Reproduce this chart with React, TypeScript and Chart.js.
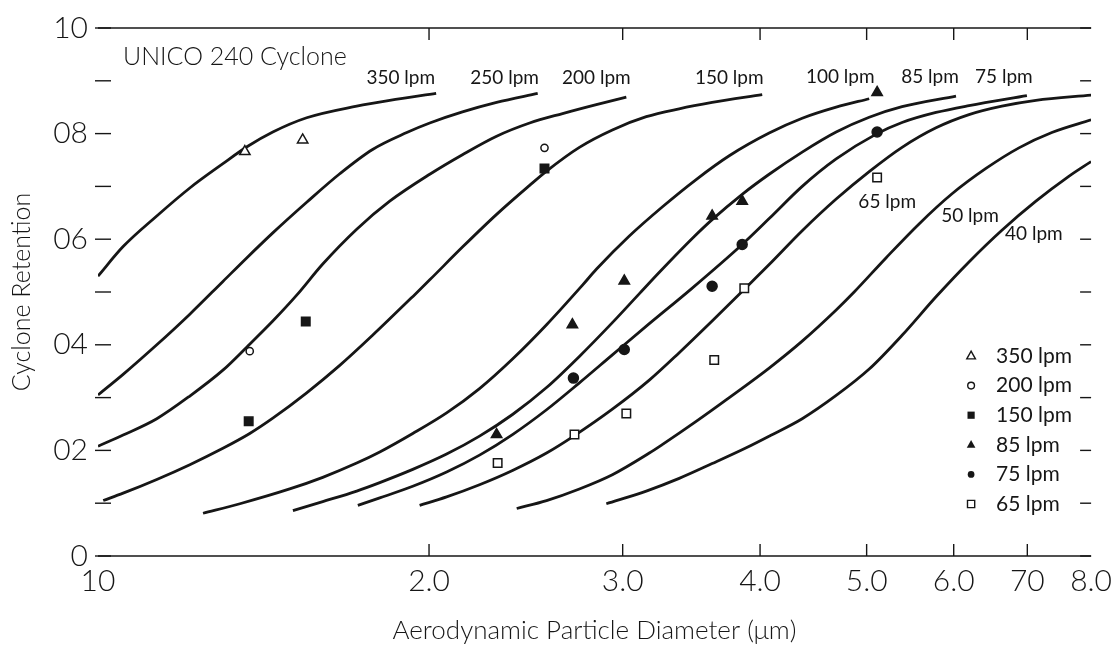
import React, { useEffect, useRef } from 'react';
import { Chart, registerables } from 'chart.js';

Chart.register(...registerables);

const FONT = 'Lato, "Liberation Sans", sans-serif';
const INK = '#161616';

// ---- axes ----
const xTickValues = [1, 2, 3, 4, 5, 6, 7, 8];
const xTickLabels = ['10', '2.0', '3.0', '4.0', '5.0', '6.0', '70', '8.0'];
const yTickValues = [0, 0.2, 0.4, 0.6, 0.8, 1.0];
const yTickLabels = ['0', '02', '04', '06', '08', '10'];
const yMinorTicks = [0.1, 0.2, 0.3, 0.4, 0.5, 0.6, 0.7, 0.8, 0.9];

// ---- fitted retention curves (x = aerodynamic diameter, y = retention) ----
const c350X = [1.0, 1.054, 1.131, 1.212, 1.299, 1.366, 1.442, 1.548, 1.719, 1.842, 2.03];
const c350Y = [0.53, 0.586, 0.644, 0.697, 0.743, 0.775, 0.803, 0.83, 0.852, 0.863, 0.876];

const c250X = [1.0, 1.054, 1.131, 1.212, 1.299, 1.366, 1.442, 1.548, 1.659, 1.777, 1.909, 2.003, 2.145, 2.304, 2.511];
const c250Y = [0.305, 0.344, 0.4, 0.458, 0.52, 0.565, 0.612, 0.67, 0.724, 0.77, 0.802, 0.82, 0.841, 0.859, 0.876];

const c200X = [1.0, 1.054, 1.131, 1.212, 1.299, 1.366, 1.442, 1.516, 1.601, 1.719, 1.842, 2.003, 2.145, 2.304, 2.469, 2.645, 2.839, 3.023];
const c200Y = [0.208, 0.229, 0.26, 0.303, 0.352, 0.396, 0.445, 0.494, 0.553, 0.619, 0.672, 0.723, 0.76, 0.795, 0.82, 0.838, 0.855, 0.869];

const c150X = [1.011, 1.054, 1.131, 1.212, 1.299, 1.374, 1.442, 1.548, 1.659, 1.777, 1.941, 2.003, 2.145, 2.304, 2.469, 2.558, 2.74, 2.936, 3.152, 3.377, 3.618, 4.018];
const c150Y = [0.105, 0.119, 0.145, 0.173, 0.204, 0.232, 0.261, 0.309, 0.361, 0.418, 0.495, 0.523, 0.585, 0.647, 0.702, 0.729, 0.774, 0.807, 0.832, 0.847, 0.859, 0.874];

const c100X = [1.246, 1.346, 1.494, 1.601, 1.719, 1.804, 1.933, 2.075, 2.223, 2.382, 2.558, 2.758, 2.839, 3.042, 3.259, 3.499, 3.75, 4.077, 4.369, 4.691, 5.027];
const c100Y = [0.081, 0.099, 0.127, 0.149, 0.176, 0.197, 0.232, 0.271, 0.317, 0.373, 0.438, 0.513, 0.543, 0.606, 0.661, 0.713, 0.758, 0.801, 0.829, 0.85, 0.866];

const c85X = [1.504, 1.601, 1.719, 1.804, 1.933, 2.075, 2.223, 2.382, 2.558, 2.74, 2.936, 3.107, 3.259, 3.485, 3.618, 3.853, 4.077, 4.369, 4.691, 5.027, 5.385, 6.029];
const c85Y = [0.086, 0.103, 0.123, 0.139, 0.164, 0.193, 0.227, 0.268, 0.319, 0.378, 0.442, 0.497, 0.543, 0.605, 0.637, 0.685, 0.723, 0.765, 0.803, 0.831, 0.851, 0.871];

const c75X = [1.723, 1.804, 1.933, 2.075, 2.223, 2.382, 2.558, 2.74, 2.936, 3.172, 3.464, 3.853, 4.077, 4.369, 4.691, 5.101, 5.385, 5.782, 6.195, 6.994];
const c75Y = [0.096, 0.11, 0.132, 0.159, 0.191, 0.23, 0.277, 0.328, 0.381, 0.44, 0.506, 0.59, 0.639, 0.7, 0.752, 0.799, 0.821, 0.84, 0.853, 0.872];

const c65X = [1.961, 2.075, 2.223, 2.382, 2.558, 2.712, 2.936, 3.172, 3.377, 3.618, 3.878, 4.077, 4.369, 4.691, 5.027, 5.385, 5.782, 6.195, 6.637, 7.127, 8.0];
const c65Y = [0.096, 0.112, 0.135, 0.162, 0.195, 0.228, 0.278, 0.333, 0.385, 0.445, 0.507, 0.552, 0.616, 0.676, 0.728, 0.774, 0.811, 0.836, 0.852, 0.863, 0.873];

const c50X = [2.403, 2.558, 2.74, 2.936, 3.172, 3.259, 3.499, 3.75, 4.077, 4.369, 4.691, 4.871, 5.209, 5.58, 5.979, 6.419, 6.878, 7.369, 8.0];
const c50Y = [0.09, 0.105, 0.127, 0.154, 0.195, 0.211, 0.255, 0.3, 0.356, 0.407, 0.466, 0.5, 0.565, 0.629, 0.686, 0.734, 0.773, 0.802, 0.826];

const c40X = [2.899, 3.152, 3.377, 3.618, 3.886, 4.077, 4.369, 4.691, 5.027, 5.385, 5.782, 6.195, 6.637, 7.127, 7.635, 8.0];
const c40Y = [0.099, 0.123, 0.147, 0.175, 0.205, 0.227, 0.26, 0.304, 0.354, 0.418, 0.491, 0.557, 0.617, 0.672, 0.719, 0.747];

const curveXs = [c350X, c250X, c200X, c150X, c100X, c85X, c75X, c65X, c50X, c40X];
const curveYs = [c350Y, c250Y, c200Y, c150Y, c100Y, c85Y, c75Y, c65Y, c50Y, c40Y];

// curve annotations (anchor in data coordinates)
const curveLabelText = ['350 lpm', '250 lpm', '200 lpm', '150 lpm', '100 lpm', '85 lpm', '75 lpm', '65 lpm', '50 lpm', '40 lpm'];
const curveLabelX = [1.885, 2.343, 2.839, 3.75, 4.731, 5.71, 6.665, 5.22, 6.208, 7.097];
const curveLabelY = [0.906, 0.906, 0.906, 0.906, 0.908, 0.908, 0.908, 0.67, 0.644, 0.61];

// ---- measured points ----
const m350X = [1.36, 1.535];
const m350Y = [0.766, 0.788];
const m200X = [2.547, 1.374];
const m200Y = [0.773, 0.388];
const m150X = [2.547, 1.545, 1.371];
const m150Y = [0.734, 0.444, 0.255];
const m85X = [5.111, 3.853, 3.618, 3.01, 2.7, 2.304];
const m85Y = [0.878, 0.672, 0.644, 0.521, 0.438, 0.23];
const m75X = [5.111, 3.853, 3.618, 3.01, 2.706];
const m75Y = [0.803, 0.59, 0.511, 0.391, 0.337];
const m65X = [5.111, 3.87, 3.634, 3.023, 2.712, 2.309];
const m65Y = [0.717, 0.507, 0.371, 0.27, 0.23, 0.176];

const markerSeries = [
  { label: '350 lpm', xs: m350X, ys: m350Y, style: 'triangle', filled: false, r: 6 },
  { label: '200 lpm', xs: m200X, ys: m200Y, style: 'circle', filled: false, r: 3.6 },
  { label: '150 lpm', xs: m150X, ys: m150Y, style: 'rect', filled: true, r: 6 },
  { label: '85 lpm', xs: m85X, ys: m85Y, style: 'triangle', filled: true, r: 6 },
  { label: '75 lpm', xs: m75X, ys: m75Y, style: 'circle', filled: true, r: 5 },
  { label: '65 lpm', xs: m65X, ys: m65Y, style: 'rect', filled: false, r: 6 },
];

function drawSymbol(ctx: CanvasRenderingContext2D, style: string, filled: boolean, x: number, y: number, s: number) {
  ctx.beginPath();
  if (style === 'triangle') {
    ctx.moveTo(x, y - s);
    ctx.lineTo(x + s * 0.9, y + s * 0.6);
    ctx.lineTo(x - s * 0.9, y + s * 0.6);
    ctx.closePath();
  } else if (style === 'circle') {
    ctx.arc(x, y, s * 0.75, 0, Math.PI * 2);
  } else {
    ctx.rect(x - s * 0.75, y - s * 0.75, s * 1.5, s * 1.5);
  }
  if (filled) {
    ctx.fillStyle = INK;
    ctx.fill();
  } else {
    ctx.fillStyle = '#fff';
    ctx.fill();
    ctx.lineWidth = 1.4;
    ctx.strokeStyle = INK;
    ctx.stroke();
  }
}

const overlayPlugin = {
  id: 'overlay',
  afterDatasetsDraw(chart: any) {
    const { ctx, chartArea: a } = chart;
    const xs = chart.scales.x;
    const ys = chart.scales.y;
    ctx.save();
    ctx.strokeStyle = INK;
    ctx.lineWidth = 1.4;
    const seg = (x1: number, y1: number, x2: number, y2: number) => {
      ctx.beginPath();
      ctx.moveTo(x1, y1);
      ctx.lineTo(x2, y2);
      ctx.stroke();
    };
    // frame lines
    seg(a.left, a.top, a.right, a.top);
    seg(a.left, a.bottom, a.right, a.bottom);
    // inward x ticks
    xTickValues.slice(1, -1).forEach((v) => {
      const px = xs.getPixelForValue(v);
      seg(px, a.top, px, a.top + 12);
      seg(px, a.bottom, px, a.bottom - 12);
    });
    // inward y ticks
    [0, ...yMinorTicks, 1].forEach((v) => {
      const py = ys.getPixelForValue(v);
      seg(a.left - 3, py, a.left + 13, py);
      seg(a.right - 11, py, a.right, py);
    });

    ctx.fillStyle = INK;
    // title
    ctx.font = `300 25px ${FONT}`;
    ctx.textAlign = 'left';
    ctx.textBaseline = 'middle';
    ctx.fillText('UNICO 240 Cyclone', a.left + 25, a.top + 29);

    // curve labels
    ctx.font = `400 19px ${FONT}`;
    ctx.textAlign = 'center';
    curveLabelText.forEach((t, i) => {
      ctx.fillText(t, xs.getPixelForValue(curveLabelX[i]), ys.getPixelForValue(curveLabelY[i]));
    });

    // legend
    const symX = a.right - 120;
    const textX = a.right - 95;
    const rowY0 = a.top + 328;
    const rowStep = 29.6;
    markerSeries.forEach((m, i) => {
      const y = rowY0 + i * rowStep;
      drawSymbol(ctx, m.style, m.filled, symX, y, m.style === 'circle' ? 4.5 : 4.8);
      ctx.fillStyle = INK;
      ctx.font = `400 21px ${FONT}`;
      ctx.textAlign = 'left';
      ctx.textBaseline = 'middle';
      ctx.fillText(m.label, textX, y);
    });
    ctx.restore();
  },
};

export default function App() {
  const ref = useRef<HTMLCanvasElement>(null);
  useEffect(() => {
    const curveDatasets = curveXs.map((xsArr, i) => ({
      label: curveLabelText[i] + ' curve',
      data: xsArr.map((x, j) => ({ x, y: curveYs[i][j] })),
      showLine: true,
      borderColor: INK,
      borderWidth: 2.8,
      pointRadius: 0,
      cubicInterpolationMode: 'monotone',
      fill: false,
      order: 1,
    }));
    const markerDatasets = markerSeries.map((m) => ({
      label: m.label,
      data: m.xs.map((x, j) => ({ x, y: m.ys[j] })),
      showLine: false,
      pointStyle: m.style,
      pointRadius: m.r,
      backgroundColor: m.filled ? INK : '#ffffff',
      borderColor: INK,
      borderWidth: 1.5,
      order: 0,
    }));
    const tickFont = { family: FONT, size: 30, weight: '300' };
    const chart = new Chart(ref.current as HTMLCanvasElement, {
      type: 'scatter',
      data: { datasets: [...curveDatasets, ...markerDatasets] as any },
      options: {
        animation: false,
        responsive: false,
        maintainAspectRatio: false,
        layout: { padding: 0 },
        plugins: { legend: { display: false }, tooltip: { enabled: false }, title: { display: false } },
        scales: {
          x: {
            type: 'logarithmic',
            position: 'bottom',
            min: 1,
            max: 8,
            afterBuildTicks: (s: any) => {
              s.ticks = xTickValues.map((v) => ({ value: v }));
            },
            afterFit: (s: any) => {
              s.height = 93;
            },
            grid: { display: false, drawTicks: false },
            border: { display: false },
            ticks: {
              autoSkip: false,
              maxRotation: 0,
              minRotation: 0,
              padding: 7,
              color: INK,
              font: tickFont,
              callback: (v: any) => {
                const i = xTickValues.indexOf(Number(v));
                return i >= 0 ? xTickLabels[i] : '';
              },
            },
            title: {
              display: true,
              text: 'Aerodynamic Particle Diameter (\u03bcm)',
              color: INK,
              font: { family: FONT, size: 26, weight: '300' },
              padding: { top: 0, bottom: 3 },
            },
          },
          y: {
            type: 'linear',
            position: 'left',
            min: 0,
            max: 1,
            afterBuildTicks: (s: any) => {
              s.ticks = yTickValues.map((v) => ({ value: v }));
            },
            afterFit: (s: any) => {
              s.width = 98;
            },
            grid: { display: false, drawTicks: false },
            border: { display: false },
            ticks: {
              padding: 10,
              color: INK,
              font: tickFont,
              callback: (_v: any, i: number) => yTickLabels[i],
            },
            title: {
              display: true,
              text: 'Cyclone Retention',
              color: INK,
              font: { family: FONT, size: 25, weight: '300' },
              padding: { top: 7, bottom: 0 },
            },
          },
          x2: {
            type: 'logarithmic',
            position: 'top',
            min: 1,
            max: 8,
            ticks: { display: false },
            grid: { display: false, drawTicks: false },
            border: { display: false },
            afterFit: (s: any) => {
              s.height = 22;
            },
          },
          y2: {
            type: 'linear',
            position: 'right',
            min: 0,
            max: 1,
            ticks: { display: false },
            grid: { display: false, drawTicks: false },
            border: { display: false },
            afterFit: (s: any) => {
              s.width = 27;
            },
          },
        },
      } as any,
      plugins: [overlayPlugin],
    });
    return () => chart.destroy();
  }, []);
  return (
    <div style={{ position: 'fixed', left: 0, top: 0, width: 1119, height: 649, background: '#fff' }}>
      <canvas ref={ref} width={1119} height={649} style={{ display: 'block', width: 1119, height: 649 }} />
    </div>
  );
}
